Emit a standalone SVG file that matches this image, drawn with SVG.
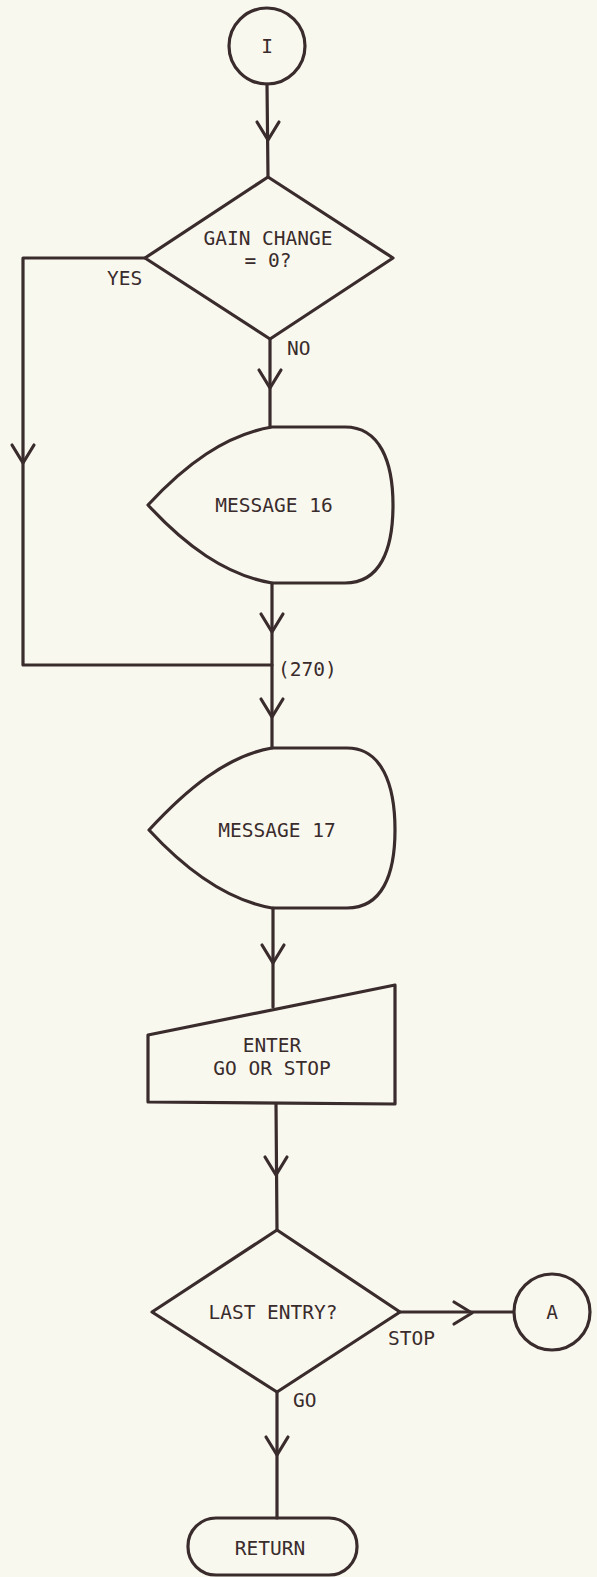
<svg xmlns="http://www.w3.org/2000/svg" width="597" height="1577" viewBox="0 0 597 1577">
<style>
.s{fill:none;stroke:#3a2c2c;stroke-width:3.2;stroke-linejoin:round;stroke-linecap:round}
.t{font-family:"DejaVu Sans Mono","Liberation Mono",monospace;font-size:19.5px;fill:#3a2c2c}
.c{text-anchor:middle}
</style>
<defs>
<path id="ah" class="s" d="M-11,-18 L0,0 L11,-18"/>
</defs>
<rect width="597" height="1577" fill="#f9f8ef"/>
<g id="connectors">
<line class="s" x1="267" y1="84" x2="268" y2="177"/>
<use href="#ah" x="268" y="140"/>
<path class="s" d="M145,258 L23,258 L23,665 L272,665"/>
<use href="#ah" x="23" y="463"/>
<line class="s" x1="270" y1="339" x2="270" y2="427"/>
<use href="#ah" x="270" y="388"/>
<line class="s" x1="272" y1="583" x2="272" y2="748"/>
<use href="#ah" x="272" y="632"/>
<use href="#ah" x="272" y="717"/>
<line class="s" x1="273" y1="908" x2="273" y2="1007"/>
<use href="#ah" x="273" y="963"/>
<line class="s" x1="276" y1="1104" x2="277" y2="1230"/>
<use href="#ah" x="276" y="1175"/>
<line class="s" x1="400" y1="1312" x2="513" y2="1312"/>
<use href="#ah" transform="translate(472,1313) rotate(-90)"/>
<line class="s" x1="277" y1="1392" x2="277" y2="1518"/>
<use href="#ah" x="277" y="1455"/>
<text class="t" x="107" y="285">YES</text>
<text class="t" x="287" y="355">NO</text>
<text class="t" x="278" y="676">(270)</text>
<text class="t" x="388" y="1345">STOP</text>
<text class="t" x="293" y="1407">GO</text>
</g>
<g id="start">
<circle class="s" cx="267" cy="46" r="38"/>
<text class="t c" x="267" y="53">I</text>
</g>
<g id="gain">
<path class="s" d="M268,177 L393,258 L270,339 L145,258 Z"/>
<text class="t c" x="268" y="245">GAIN CHANGE</text>
<text class="t c" x="268" y="267">= 0?</text>
</g>
<g id="msg16">
<path class="s" d="M148,505 C185,465 225,435 272,427 L345,427 C380,427 393,462 393,505 C393,550 380,583 345,583 L272,583 C225,575 185,545 148,505 Z"/>
<text class="t c" x="274" y="512">MESSAGE 16</text>
</g>
<g id="msg17">
<path class="s" d="M149,830 C186,790 226,756 272,748 L347,748 C382,748 395,785 395,830 C395,875 382,908 347,908 L272,908 C226,900 186,870 149,830 Z"/>
<text class="t c" x="277" y="837">MESSAGE 17</text>
</g>
<g id="enter">
<path class="s" d="M148,1035 L395,985 L395,1104 L148,1102 Z"/>
<text class="t c" x="272" y="1052">ENTER</text>
<text class="t c" x="272" y="1075">GO OR STOP</text>
</g>
<g id="last">
<path class="s" d="M277,1230 L400,1312 L277,1392 L152,1312 Z"/>
<text class="t c" x="273" y="1319">LAST ENTRY?</text>
</g>
<g id="connA">
<circle class="s" cx="552" cy="1312" r="38"/>
<text class="t c" x="552" y="1319">A</text>
</g>
<g id="return">
<rect class="s" x="188" y="1518" width="169" height="57" rx="28" ry="28"/>
<text class="t c" x="270" y="1555">RETURN</text>
</g>
</svg>
